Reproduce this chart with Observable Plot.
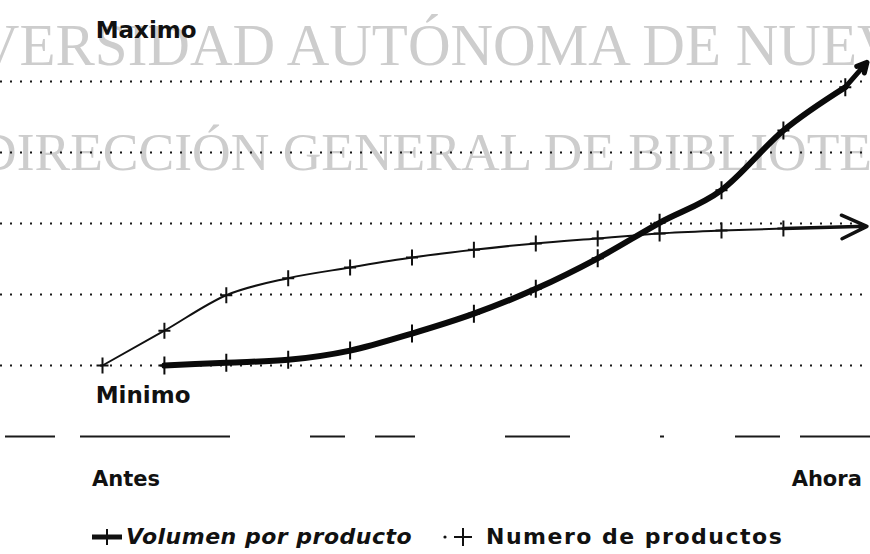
<!DOCTYPE html>
<html><head><meta charset="utf-8">
<script src="https://cdn.jsdelivr.net/npm/d3@7"></script>
<script src="https://cdn.jsdelivr.net/npm/@observablehq/plot@0.6"></script>
<style>
body{margin:0;background:#fff;}
#wrap{position:relative;width:870px;height:554px;overflow:hidden;font-family:"DejaVu Sans",sans-serif;color:#111;}
#chart svg{display:block;}
#legend{position:absolute;left:0;top:510px;width:870px;height:44px;}
#legend .t{position:absolute;top:14px;font-weight:bold;font-size:22px;line-height:25px;white-space:nowrap;}
#legend svg{position:absolute;top:17px;}
</style></head><body>
<div id="wrap"><div id="chart"></div><div id="legend"></div></div>
<script>
// ---- data ----
const numeroIdx  = [0, 1, 2, 3, 4, 5, 6, 7, 8, 9, 10, 11];
const numeroVals = [0, 0.49, 0.99, 1.23, 1.38, 1.52, 1.63, 1.72, 1.79, 1.86, 1.90, 1.93];
const volumenIdx  = [1, 2, 3, 4, 5, 6, 7, 8, 9, 10, 11, 12];
const volumenVals = [0, 0.04, 0.08, 0.21, 0.45, 0.73, 1.08, 1.51, 2.01, 2.47, 3.31, 3.92];
const arrowTipIdx = 12.35;
const numeroTip = 1.96;
const volumenTip = 4.27;
const gridLevels = [0, 1, 2, 3, 4];
const baseLevel = [-1];
const xLabels = ["Antes", "Ahora"];
const xLabelPos = [0.38, 11.7];
const yLabels = ["Maximo", "Minimo"];
const yLabelPos = [4.72, -0.42];
const yLabelX = [-0.11, -0.11];
const seriesNames = ["Volumen por producto", "Numero de productos"];
const watermark = ["UNIVERSIDAD AUTÓNOMA DE NUEVO LEÓN", "DIRECCIÓN GENERAL DE BIBLIOTECAS"];

const numero = numeroIdx.map((x, i) => ({x, y: numeroVals[i]}));
const volumen = volumenIdx.map((x, i) => ({x, y: volumenVals[i]}));

const plus = (w, h) => ({draw(ctx) { ctx.moveTo(-w, 0); ctx.lineTo(w, 0); ctx.moveTo(0, -h); ctx.lineTo(0, h); }});

const W = 870, H = 510;
const x0 = 102, step = 61.9, y0 = 365, ystep = 71;

const chart = Plot.plot({
  width: W, height: H,
  marginTop: 0, marginBottom: 0, marginLeft: 0, marginRight: 0,
  x: {domain: [-x0 / step, (W - x0) / step], axis: null},
  y: {domain: [(y0 - H) / ystep, y0 / ystep], axis: null},
  style: {background: "transparent", color: "#111"},
  marks: [
    Plot.ruleY(gridLevels, {stroke: "#1a1a1a", strokeWidth: 2, strokeDasharray: "2,8"}),
    Plot.ruleY(baseLevel, {stroke: "#1a1a1a", strokeWidth: 2,
      strokeDasharray: "0,5,50,25,150,80,35,30,40,90,65,90,4,71,45,20,70,0"}),
    // Numero de productos (thin)
    Plot.line(numero, {x: "x", y: "y", stroke: "#111", strokeWidth: 2, curve: "monotone-x"}),
    Plot.arrow([0], {x1: () => numeroIdx[numeroIdx.length - 1], y1: () => numeroVals[numeroVals.length - 1],
      x2: () => arrowTipIdx, y2: () => numeroTip, stroke: "#111", strokeWidth: 3.5, headLength: 16, headAngle: 50}),
    Plot.dot(numero, {x: "x", y: "y", symbol: plus(6, 8), fill: "none", stroke: "#111", strokeWidth: 2}),
    // Volumen por producto (thick)
    Plot.line(volumen, {x: "x", y: "y", stroke: "#0a0a0a", strokeWidth: 6, curve: "monotone-x"}),
    Plot.arrow([0], {x1: () => volumenIdx[volumenIdx.length - 1], y1: () => volumenVals[volumenVals.length - 1],
      x2: () => arrowTipIdx, y2: () => volumenTip, stroke: "#0a0a0a", strokeWidth: 5, headLength: 18, headAngle: 55}),
    Plot.dot(volumen, {x: "x", y: "y", symbol: plus(6, 9), fill: "none", stroke: "#0a0a0a", strokeWidth: 2}),
    // labels
    Plot.text(xLabels, {x: (d, i) => xLabelPos[i], y: () => -1.6, text: d => d,
      fontSize: 21, fontWeight: "bold", fontFamily: "DejaVu Sans", fill: "#111"}),
    Plot.text(yLabels, {x: (d, i) => yLabelX[i], y: (d, i) => yLabelPos[i], text: d => d,
      textAnchor: "start", fontSize: 23, fontWeight: "bold", fontFamily: "DejaVu Sans", fill: "#111"})
  ]
});

// watermark underneath everything
const svg = d3.select(chart);
const wm = svg.insert("g", ":first-child").attr("fill", "#cdcdcd").attr("text-anchor", "start")
  .attr("font-family", "Liberation Serif, Times New Roman, serif");
wm.append("text").attr("x", -128).attr("y", 65).attr("font-size", 59).text(watermark[0]);
wm.append("text").attr("x", -22).attr("y", 170).attr("font-size", 53.5).text(watermark[1]);

document.getElementById("chart").appendChild(chart);

// legend
const legend = document.getElementById("legend");
legend.innerHTML = `
  <svg width="34" height="20" style="left:90px"><line x1="2" y1="10" x2="32" y2="10" stroke="#111" stroke-width="5"/><line x1="17" y1="2" x2="17" y2="18" stroke="#111" stroke-width="2"/></svg>
  <div class="t" style="left:126px;font-style:italic;letter-spacing:0.5px">${seriesNames[0]}</div>
  <svg width="36" height="20" style="left:440px"><circle cx="5" cy="10" r="1.6" fill="#111"/><line x1="14" y1="10" x2="32" y2="10" stroke="#111" stroke-width="2"/><line x1="23" y1="1" x2="23" y2="19" stroke="#111" stroke-width="2"/></svg>
  <div class="t" style="left:486px;letter-spacing:1.5px">${seriesNames[1]}</div>`;
</script>
</body></html>
